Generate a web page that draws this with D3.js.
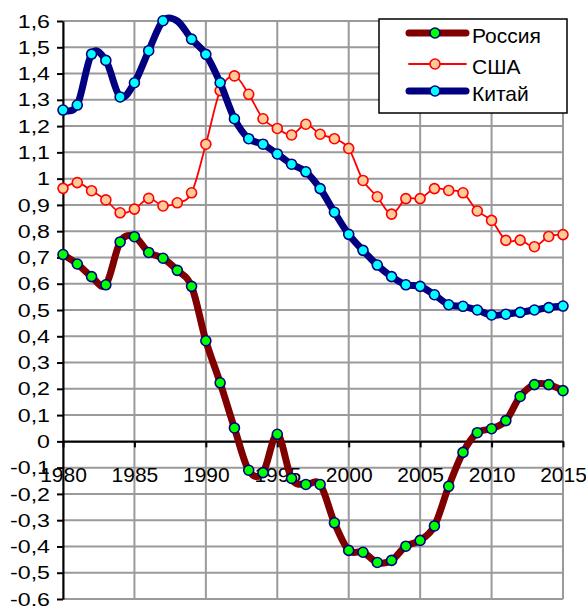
<!DOCTYPE html>
<html>
<head>
<meta charset="utf-8">
<script src="https://cdn.jsdelivr.net/npm/d3@7"></script>
<style>
  body { margin: 0; background: #fff; }
  text { font-family: "Liberation Sans", Arial, sans-serif; fill: #000; }
</style>
</head>
<body>
<div id="chart"></div>
<script>
// data
const years = d3.range(1980, 2016);

const russia = [0.711, 0.675, 0.627, 0.596, 0.759, 0.779, 0.719, 0.697, 0.651, 0.590,
                0.383, 0.223, 0.051, -0.110, -0.119, 0.027, -0.141, -0.164, -0.164, -0.310,
                -0.415, -0.422, -0.461, -0.453, -0.399, -0.377, -0.322, -0.171, -0.042, 0.033,
                0.048, 0.079, 0.171, 0.216, 0.216, 0.193];

const usa = [0.963, 0.985, 0.954, 0.919, 0.870, 0.884, 0.925, 0.896, 0.908, 0.946,
             1.131, 1.335, 1.391, 1.321, 1.228, 1.191, 1.166, 1.207, 1.169, 1.152,
             1.115, 0.993, 0.931, 0.865, 0.924, 0.924, 0.962, 0.955, 0.946, 0.877,
             0.841, 0.765, 0.766, 0.741, 0.780, 0.787];

const china = [1.261, 1.280, 1.474, 1.450, 1.311, 1.365, 1.487, 1.601, 1.600, 1.531,
               1.473, 1.365, 1.228, 1.152, 1.131, 1.094, 1.055, 1.026, 0.962, 0.872,
               0.788, 0.727, 0.671, 0.627, 0.596, 0.590, 0.558, 0.520, 0.514, 0.500,
               0.481, 0.484, 0.491, 0.500, 0.509, 0.515];
const chinaNoMarker = [1988];

const seriesNames = ["Россия", "США", "Китай"];
const xTicks = [1980, 1985, 1990, 1995, 2000, 2005, 2010, 2015];
const yTicks = d3.range(-6, 17).map(function(d) { return d / 10; });

const width = 586, height = 606;
const svg = d3.select("#chart").append("svg")
    .attr("width", width).attr("height", height);

const x = d3.scaleLinear().domain([1980, 2015]).range([63, 563]);
const y = d3.scaleLinear().domain([-0.6, 1.6]).range([599, 21]);

function fmt(d) {
    let s = d3.format(".1f")(Math.abs(d)).replace(".", ",");
    if (s.endsWith(",0")) s = s.slice(0, -2);
    return (d < 0 ? "-" : "") + s;
}

// grid
svg.append("g").selectAll("line.h")
    .data(yTicks).enter().append("line")
    .attr("x1", x(1980)).attr("x2", x(2015))
    .attr("y1", function(d) { return y(d); }).attr("y2", function(d) { return y(d); })
    .attr("stroke", "#9a9a9a").attr("stroke-width", 2);
svg.append("g").selectAll("line.v")
    .data(xTicks).enter().append("line")
    .attr("x1", function(d) { return x(d); }).attr("x2", function(d) { return x(d); })
    .attr("y1", y(1.6)).attr("y2", y(-0.6))
    .attr("stroke", "#9a9a9a").attr("stroke-width", 2);

// axes
const yAxis = svg.append("g")
    .attr("transform", "translate(" + x(1980) + ",0)")
    .call(d3.axisLeft(y).tickValues(yTicks).tickFormat(fmt).tickSize(6).tickSizeOuter(0).tickPadding(8));
const xAxis = svg.append("g")
    .attr("transform", "translate(0," + y(0) + ")")
    .call(d3.axisBottom(x).tickValues(xTicks).tickFormat(d3.format("d")).tickSize(6).tickSizeOuter(0).tickPadding(20));
[yAxis, xAxis].forEach(function(a) {
    a.selectAll("path").attr("stroke", "#000").attr("stroke-width", 2);
    a.selectAll("line").attr("stroke", "#000").attr("stroke-width", 2);
    a.selectAll("text").attr("fill", "#000")
        .style("font-family", "'Liberation Sans', Arial, sans-serif");
});
// y labels in the source are drawn a little wide
yAxis.selectAll("text")
    .attr("font-size", "19px")
    .attr("x", 0)
    .attr("transform", "translate(-13,0) scale(1.22,1)");
xAxis.selectAll("text").attr("font-size", "21px");

const series = [
    { name: seriesNames[0], values: russia, line: "#800000", lw: 7, fill: "#00ff00", mstroke: "#000080", skip: [] },
    { name: seriesNames[1], values: usa, line: "#ff0000", lw: 1.8, fill: "#ffcc99", mstroke: "#ff0000", skip: [] },
    { name: seriesNames[2], values: china, line: "#000080", lw: 7, fill: "#00ffff", mstroke: "#000080", skip: chinaNoMarker }
];

const line = d3.line()
    .x(function(d) { return x(d[0]); })
    .y(function(d) { return y(d[1]); })
    .curve(d3.curveCardinal.tension(0));

series.forEach(function(s) {
    const pts = years.map(function(yr, i) { return [yr, s.values[i]]; });
    svg.append("path")
        .datum(pts)
        .attr("d", line)
        .attr("fill", "none")
        .attr("stroke", s.line)
        .attr("stroke-width", s.lw)
        .attr("stroke-linejoin", "round")
        .attr("stroke-linecap", "round");
    svg.append("g").selectAll("circle")
        .data(pts.filter(function(d) { return s.skip.indexOf(d[0]) < 0; }))
        .enter().append("circle")
        .attr("cx", function(d) { return x(d[0]); })
        .attr("cy", function(d) { return y(d[1]); })
        .attr("r", 5)
        .attr("fill", s.fill)
        .attr("stroke", s.mstroke)
        .attr("stroke-width", 1.6);
});

// legend
const legend = svg.append("g").attr("transform", "translate(379,19)");
legend.append("rect")
    .attr("width", 188).attr("height", 94)
    .attr("fill", "#fff").attr("stroke", "#000").attr("stroke-width", 1.5);
const rows = legend.selectAll("g.row").data(series).enter().append("g")
    .attr("transform", function(d, i) { return "translate(0," + [14, 45, 72][i] + ")"; });
rows.append("line")
    .attr("x1", 30).attr("x2", 87)
    .attr("stroke", function(d) { return d.line; })
    .attr("stroke-width", function(d) { return d.lw; })
    .attr("stroke-linecap", "round");
rows.append("circle")
    .attr("cx", 56).attr("r", 5)
    .attr("fill", function(d) { return d.fill; })
    .attr("stroke", function(d) { return d.mstroke; })
    .attr("stroke-width", 1.6);
rows.append("text")
    .attr("x", 93).attr("y", 10)
    .attr("font-size", "21px")
    .text(function(d) { return d.name; });
</script>
</body>
</html>
